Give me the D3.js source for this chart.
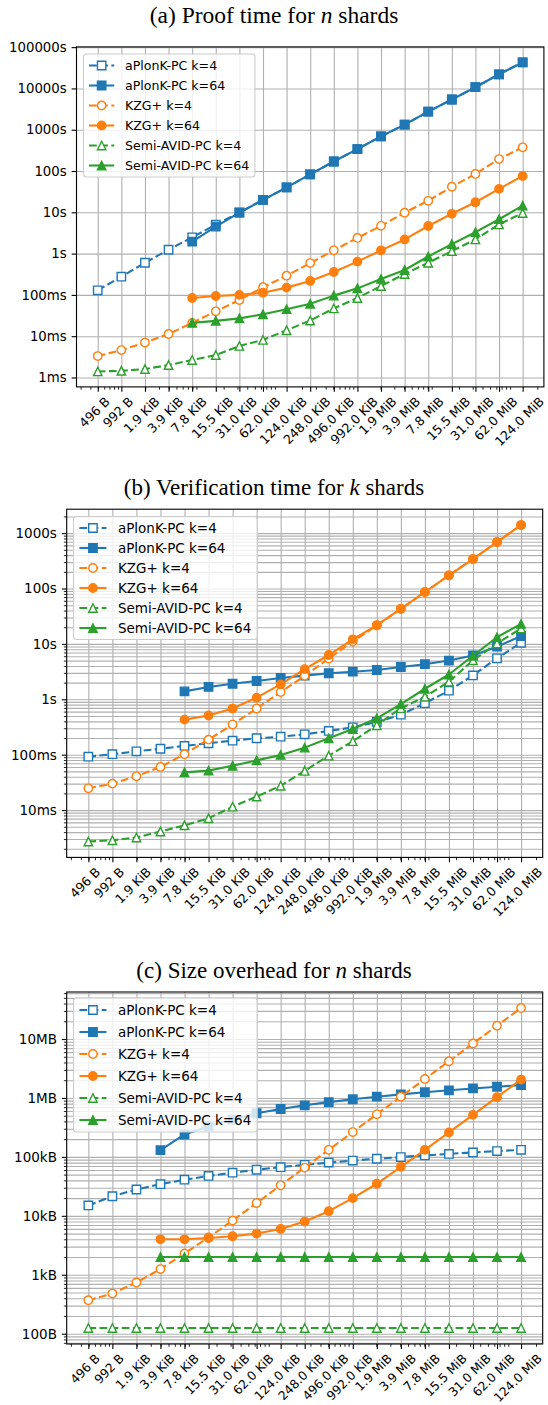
<!DOCTYPE html>
<html>
<head>
<meta charset="utf-8">
<script src="https://cdn.jsdelivr.net/npm/d3@7"></script>
<style>
  body { margin: 0; background: #fff; }
  svg { display: block; }
  text { font-family: "DejaVu Sans", sans-serif; }
</style>
</head>
<body>
<svg id="fig" width="548" height="1405"></svg>
<script>
// ---- data ---------------------------------------------------------------
const sizeLabels = ["496 B", "992 B", "1.9 KiB", "3.9 KiB", "7.8 KiB", "15.5 KiB", "31.0 KiB",
  "62.0 KiB", "124.0 KiB", "248.0 KiB", "496.0 KiB", "992.0 KiB", "1.9 MiB", "3.9 MiB",
  "7.8 MiB", "15.5 MiB", "31.0 MiB", "62.0 MiB", "124.0 MiB"];
const sizeBytes = [496, 992, 1984, 3968, 7936, 15872, 31744, 63488, 126976, 253952, 507904,
  1015808, 2031616, 4063232, 8126464, 16252928, 32505856, 65011712, 130023424];

const seriesNames = ["aPlonK-PC k=4", "aPlonK-PC k=64", "KZG+ k=4", "KZG+ k=64",
  "Semi-AVID-PC k=4", "Semi-AVID-PC k=64"];

// (a) proof time for n shards, seconds
const proofAplonk4 = [0.129, 0.276, 0.60, 1.24, 2.48, 5.0, 9.9, 20, 40, 83, 170, 340, 690, 1330, 2740, 5400, 10700, 22000, 42800];
const proofAplonk64 = [null, null, null, null, 1.94, 4.5, 9.8, 19.9, 40, 83, 170, 340, 690, 1330, 2740, 5400, 10700, 22000, 42800];
const proofKzg4 = [0.0033, 0.0046, 0.0070, 0.0113, 0.021, 0.040, 0.075, 0.153, 0.292, 0.59, 1.2, 2.4, 4.7, 9.8, 19, 41.6, 85, 195, 375];
const proofKzg64 = [null, null, null, null, 0.084, 0.094, 0.100, 0.113, 0.150, 0.217, 0.358, 0.64, 1.2, 2.2, 4.66, 9.2, 17.5, 37, 76];
const proofSemi4 = [0.0014, 0.00145, 0.0016, 0.0020, 0.00265, 0.0035, 0.0058, 0.0081, 0.0139, 0.024, 0.047, 0.084, 0.164, 0.32, 0.60, 1.15, 2.2, 5.1, 9.6];
const proofSemi64 = [null, null, null, null, 0.021, 0.0235, 0.027, 0.034, 0.045, 0.061, 0.096, 0.144, 0.243, 0.40, 0.85, 1.7, 3.3, 6.8, 14.5];

// (b) verification time for k shards, seconds
const verifyAplonk4 = [0.092, 0.102, 0.115, 0.128, 0.144, 0.161, 0.179, 0.198, 0.211, 0.233, 0.268, 0.312, 0.39, 0.527, 0.85, 1.43, 2.7, 5.5, 10.5];
const verifyAplonk64 = [null, null, null, null, 1.39, 1.67, 1.91, 2.14, 2.43, 2.67, 2.95, 3.15, 3.38, 3.83, 4.3, 5.0, 6.2, 8.9, 13.9];
const verifyKzg4 = [0.0247, 0.030, 0.0407, 0.060, 0.102, 0.187, 0.35, 0.68, 1.35, 2.65, 5.45, 11, 21.5, 43, 86, 173, 340, 690, 1400];
const verifyKzg64 = [null, null, null, null, 0.43, 0.51, 0.68, 1.07, 1.86, 3.5, 6.3, 12.1, 21.9, 43, 86.5, 173, 340, 690, 1400];
const verifySemi4 = [0.0027, 0.00285, 0.0032, 0.0041, 0.0053, 0.0071, 0.0115, 0.0175, 0.0275, 0.051, 0.096, 0.175, 0.34, 0.69, 1.11, 2.08, 5.05, 10.2, 19];
const verifySemi64 = [null, null, null, null, 0.048, 0.0515, 0.063, 0.079, 0.099, 0.134, 0.198, 0.291, 0.454, 0.82, 1.55, 2.8, 6.1, 13.2, 22.9];

// (c) size overhead for n shards, bytes
const sizeAplonk4 = [15000, 21500, 28000, 34500, 41000, 47500, 54000, 60500, 67000, 73500, 80000, 86500, 93000, 99500, 106000, 112500, 119000, 125500, 132000];
const sizeAplonk64 = [null, null, null, 130000, 240000, 330000, 430000, 550000, 650000, 750000, 850000, 950000, 1050000, 1150000, 1250000, 1350000, 1450000, 1550000, 1650000];
const sizeKzg4 = [370, 480, 740, 1250, 2300, 4300, 8300, 16500, 33000, 66000, 132000, 264000, 528000, 1050000, 2100000, 4200000, 8400000, 16800000, 33600000];
const sizeKzg64 = [null, null, null, 4000, 4000, 4200, 4500, 5000, 6000, 8000, 12000, 20000, 35000, 68000, 132000, 260000, 516000, 1030000, 2050000];
const sizeSemi4 = [125, 125, 125, 125, 125, 125, 125, 125, 125, 125, 125, 125, 125, 125, 125, 125, 125, 125, 125];
const sizeSemi64 = [null, null, null, 2000, 2000, 2000, 2000, 2000, 2000, 2000, 2000, 2000, 2000, 2000, 2000, 2000, 2000, 2000, 2000];

// y tick values and their labels
const timeTicksA = [0.001, 0.01, 0.1, 1, 10, 100, 1000, 10000, 100000];
const timeLabelsA = ["1ms", "10ms", "100ms", "1s", "10s", "100s", "1000s", "10000s", "100000s"];
const timeTicksB = [0.01, 0.1, 1, 10, 100, 1000];
const timeLabelsB = ["10ms", "100ms", "1s", "10s", "100s", "1000s"];
const byteTicksC = [100, 1000, 10000, 100000, 1000000, 10000000];
const byteLabelsC = ["100B", "1kB", "10kB", "100kB", "1MB", "10MB"];

// ---- styling ------------------------------------------------------------
const BLUE = "#1f77b4", ORANGE = "#ff7f0e", GREEN = "#2ca02c";
const seriesStyle = [
  { color: BLUE, dashed: true, marker: "square", filled: false },
  { color: BLUE, dashed: false, marker: "square", filled: true },
  { color: ORANGE, dashed: true, marker: "circle", filled: false },
  { color: ORANGE, dashed: false, marker: "circle", filled: true },
  { color: GREEN, dashed: true, marker: "triangle", filled: false },
  { color: GREEN, dashed: false, marker: "triangle", filled: true }
];
const LW = 2.1;           // line width
const MS = 8.4;           // marker size
const MEW = 1.4;          // marker edge width
const GRID = "#b0b0b0";

const svg = d3.select("#fig");

// pad a log extent by 5% on each side (in log space)
function padLog([lo, hi], frac = 0.05) {
  const a = Math.log10(lo), b = Math.log10(hi), d = (b - a) * frac;
  return [Math.pow(10, a - d), Math.pow(10, b + d)];
}

function minorValues(domain) {
  const out = [];
  const k0 = Math.floor(Math.log10(domain[0])), k1 = Math.ceil(Math.log10(domain[1]));
  for (let k = k0; k <= k1; k++) {
    for (let j = 2; j <= 9; j++) {
      const v = j * Math.pow(10, k);
      if (v >= domain[0] && v <= domain[1]) out.push(v);
    }
  }
  return out;
}

function markerPath(kind, size) {
  if (kind === "square") return d3.symbol(d3.symbolSquare, size * size)();
  if (kind === "circle") return d3.symbol(d3.symbolCircle, Math.PI * size * size / 4)();
  const h = size / 2;
  return `M0,${-h}L${h},${h}L${-h},${h}Z`;
}

function drawPanel(cfg) {
  const { box, values, yTicks, yLabels, yMinor, title, legend, fs } = cfg;
  const g = svg.append("g");

  // title
  const t = g.append("text")
    .attr("x", 274).attr("y", title.y)
    .attr("text-anchor", "middle")
    .style("font-family", "'Liberation Serif', 'DejaVu Serif', serif")
    .style("font-size", title.size + "px");
  t.append("tspan").text(title.pre);
  t.append("tspan").style("font-style", "italic").text(title.ital);
  t.append("tspan").text(title.post);

  const allVals = values.flat().filter(v => v != null);
  const x = d3.scaleLog().domain(padLog(d3.extent(sizeBytes))).range([box.l, box.r]);
  const y = d3.scaleLog().domain(padLog(d3.extent(allVals))).range([box.b, box.t]);
  const W = box.r - box.l, H = box.b - box.t;

  // grid
  const gridStyle = s => s.select(".domain").remove();
  if (yMinor) {
    g.append("g").attr("transform", `translate(${box.l},0)`)
      .call(d3.axisLeft(y).tickValues(minorValues(y.domain())).tickSize(-W).tickFormat(""))
      .call(gridStyle)
      .call(s => s.selectAll("line").attr("stroke", GRID).attr("stroke-width", 1.1));
  }
  g.append("g").attr("transform", `translate(${box.l},0)`)
    .call(d3.axisLeft(y).tickValues(yTicks).tickSize(-W).tickFormat(""))
    .call(gridStyle)
    .call(s => s.selectAll("line").attr("stroke", GRID).attr("stroke-width", 1.1));
  g.append("g").attr("transform", `translate(0,${box.b})`)
    .call(d3.axisBottom(x).tickValues(sizeBytes).tickSize(-H).tickFormat(""))
    .call(gridStyle)
    .call(s => s.selectAll("line").attr("stroke", GRID).attr("stroke-width", 1.1));

  // series
  const clipId = "clip" + cfg.id;
  g.append("clipPath").attr("id", clipId).append("rect")
    .attr("x", box.l).attr("y", box.t).attr("width", W).attr("height", H);
  const plot = g.append("g").attr("clip-path", `url(#${clipId})`);
  values.forEach((vals, si) => {
    const st = seriesStyle[si];
    const pts = vals.map((v, i) => ({ x: sizeBytes[i], v })).filter(p => p.v != null);
    const line = d3.line().x(p => x(p.x)).y(p => y(p.v));
    plot.append("path").attr("d", line(pts))
      .attr("fill", "none").attr("stroke", st.color).attr("stroke-width", LW)
      .attr("stroke-linejoin", "round")
      .attr("stroke-dasharray", st.dashed ? `${3.7 * LW},${1.6 * LW}` : null);
    plot.append("g").selectAll("path").data(pts).join("path")
      .attr("d", markerPath(st.marker, MS))
      .attr("transform", p => `translate(${x(p.x)},${y(p.v)})`)
      .attr("fill", st.filled ? st.color : "#fff")
      .attr("stroke", st.color).attr("stroke-width", MEW)
      .attr("stroke-linejoin", "miter");
  });

  // spines
  g.append("rect").attr("x", box.l).attr("y", box.t).attr("width", W).attr("height", H)
    .attr("fill", "none").attr("stroke", "#000").attr("stroke-width", 1.1);

  // x axis: major ticks with labels rotated 45 deg around the tick; minor ticks
  const xa = g.append("g").attr("transform", `translate(0,${box.b})`)
    .call(d3.axisBottom(x).tickValues(sizeBytes).tickSize(4.9).tickFormat((d, i) => sizeLabels[i]));
  xa.select(".domain").remove();
  xa.selectAll("line").attr("stroke", "#000").attr("stroke-width", 1.1);
  const xfs = cfg.xfs, asc = 0.76 * xfs, desc = 0.24 * xfs, r2 = Math.SQRT1_2;
  xa.selectAll("text")
    .style("font-size", xfs + "px").attr("fill", "#000")
    .attr("x", 0).attr("y", 0).attr("dy", 0)
    .attr("text-anchor", "end")
    .each(function () {
      const w = this.getComputedTextLength();
      const px = 0.5 * r2 * (w + asc - desc) - 3;
      const py = 8.6 + r2 * asc;
      d3.select(this).attr("transform", `translate(${px},${py}) rotate(-45)`);
    });
  const xm = g.append("g").attr("transform", `translate(0,${box.b})`)
    .call(d3.axisBottom(x).tickValues(minorValues(x.domain())).tickSize(2.8).tickFormat(""));
  xm.select(".domain").remove();
  xm.selectAll("line").attr("stroke", "#000").attr("stroke-width", 0.85);

  // y axis
  const ya = g.append("g").attr("transform", `translate(${box.l},0)`)
    .call(d3.axisLeft(y).tickValues(yTicks).tickSize(4.9).tickPadding(4.9)
      .tickFormat((d, i) => yLabels[i]));
  ya.select(".domain").remove();
  ya.selectAll("line").attr("stroke", "#000").attr("stroke-width", 1.1);
  ya.selectAll("text").style("font-size", fs + "px").attr("fill", "#000");
  if (yMinor) {
    const ym = g.append("g").attr("transform", `translate(${box.l},0)`)
      .call(d3.axisLeft(y).tickValues(minorValues(y.domain())).tickSize(2.8).tickFormat(""));
    ym.select(".domain").remove();
    ym.selectAll("line").attr("stroke", "#000").attr("stroke-width", 0.85);
  }

  // legend (upper left)
  const lfs = legend.fs;
  const hx0 = 0.44 * lfs, hx1 = hx0 + 2 * lfs, tx0 = hx1 + 0.85 * lfs;
  const lg = g.append("g").attr("transform", `translate(${legend.x},${legend.y})`);
  const frame = lg.append("rect").attr("rx", 3).attr("ry", 3)
    .attr("fill", "#fff").attr("fill-opacity", 0.8)
    .attr("stroke", "#cccccc").attr("stroke-width", 1.1);
  let maxW = 0;
  seriesNames.forEach((name, si) => {
    const st = seriesStyle[si];
    const cy = legend.first + legend.row * si;
    lg.append("line").attr("x1", hx0).attr("x2", hx1).attr("y1", cy).attr("y2", cy)
      .attr("stroke", st.color).attr("stroke-width", LW)
      .attr("stroke-dasharray", st.dashed ? `${3.7 * LW},${1.6 * LW}` : null);
    lg.append("path").attr("d", markerPath(st.marker, MS))
      .attr("transform", `translate(${(hx0 + hx1) / 2},${cy})`)
      .attr("fill", st.filled ? st.color : "#fff")
      .attr("stroke", st.color).attr("stroke-width", MEW);
    const tx = lg.append("text").attr("x", tx0).attr("y", cy).attr("dy", "0.36em")
      .style("font-size", lfs + "px").attr("fill", "#000").text(name);
    maxW = Math.max(maxW, tx.node().getComputedTextLength());
  });
  frame.attr("width", tx0 + maxW + 0.44 * lfs).attr("height", legend.first * 2 + legend.row * 5);
}

drawPanel({
  id: "a", fs: 13.3, xfs: 12.6,
  box: { l: 76.5, r: 543.9, t: 46.9, b: 386.9 },
  values: [proofAplonk4, proofAplonk64, proofKzg4, proofKzg64, proofSemi4, proofSemi64],
  yTicks: timeTicksA, yLabels: timeLabelsA, yMinor: false,
  title: { y: 23, size: 23.5, pre: "(a) Proof time for ", ital: "n", post: " shards" },
  legend: { x: 83.5, y: 54, first: 11.5, row: 20, fs: 12.6 }
});
drawPanel({
  id: "b", fs: 13.5, xfs: 12.6,
  box: { l: 66.7, r: 542.7, t: 509.2, b: 857.4 },
  values: [verifyAplonk4, verifyAplonk64, verifyKzg4, verifyKzg64, verifySemi4, verifySemi64],
  yTicks: timeTicksB, yLabels: timeLabelsB, yMinor: true,
  title: { y: 495, size: 23, pre: "(b) Verification time for ", ital: "k", post: " shards" },
  legend: { x: 73.5, y: 516.5, first: 11.5, row: 20, fs: 13.5 }
});
drawPanel({
  id: "c", fs: 13.5, xfs: 12.3,
  box: { l: 66.7, r: 542.7, t: 992, b: 1344 },
  values: [sizeAplonk4, sizeAplonk64, sizeKzg4, sizeKzg64, sizeSemi4, sizeSemi64],
  yTicks: byteTicksC, yLabels: byteLabelsC, yMinor: true,
  title: { y: 978, size: 23, pre: "(c) Size overhead for ", ital: "n", post: " shards" },
  legend: { x: 73.5, y: 998, first: 12, row: 22, fs: 13.5 }
});
</script>
</body>
</html>
